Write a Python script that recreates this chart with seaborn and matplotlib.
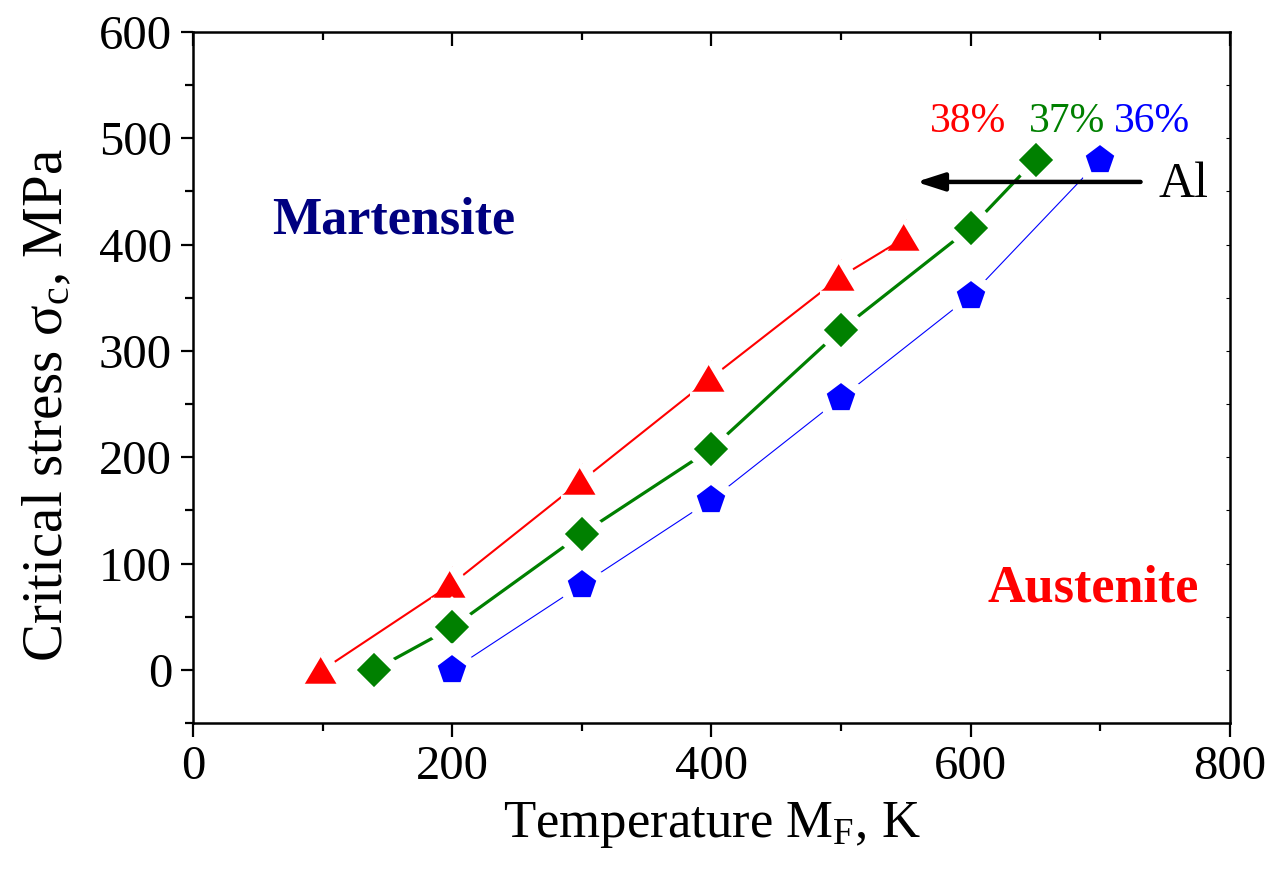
import numpy as np
import pandas as pd
import matplotlib
matplotlib.use("Agg")
import matplotlib.pyplot as plt
from matplotlib.ticker import MultipleLocator
import seaborn as sns

# Critical stress vs. martensite finish temperature for three Ni contents
temp_38 = [100, 200, 300, 400, 500, 550]
stress_38 = [0, 81, 178, 275, 370, 407]

temp_37 = [140, 200, 300, 400, 500, 600, 650]
stress_37 = [0, 40, 128, 208, 320, 416, 480]

temp_36 = [200, 300, 400, 500, 600, 700]
stress_36 = [0, 80, 160, 256, 352, 480]

labels = ["38%", "37%", "36%"]
colors = ["#ff0000", "#008000", "#0000ff"]

sns.set_theme(style="ticks")
plt.rcParams["font.family"] = ["Liberation Serif", "DejaVu Serif"]
plt.rcParams["mathtext.fontset"] = "custom"
plt.rcParams["mathtext.rm"] = "Liberation Serif"
plt.rcParams["mathtext.it"] = "Liberation Serif:italic"

fig = plt.figure(figsize=(12.77, 8.73), dpi=100)
ax = fig.add_axes([0.1511, 0.1718, 0.8121, 0.7915])

tri = [(-0.5, -0.42), (0.5, -0.42), (0.0, 0.42)]
mew = 7
series = [
    (temp_38, stress_38, colors[0], tri, 24, 1.5),
    (temp_37, stress_37, colors[1], "D", 17, 2.3),
    (temp_36, stress_36, colors[2], "p", 23, 0.8),
]
for t, s, c, m, ms, lw in series:
    df = pd.DataFrame({"T": t, "S": s})
    sns.lineplot(data=df, x="T", y="S", ax=ax, color=c, lw=lw, sort=False,
                 marker=m, markersize=ms + mew, markerfacecolor=c,
                 markeredgecolor="white", markeredgewidth=mew, zorder=3)

ax.set_xlim(0, 800)
ax.set_ylim(-50, 600)
ax.xaxis.set_major_locator(MultipleLocator(200))
ax.xaxis.set_minor_locator(MultipleLocator(100))
ax.yaxis.set_major_locator(MultipleLocator(100))
ax.yaxis.set_minor_locator(MultipleLocator(50))

for sp in ax.spines.values():
    sp.set_linewidth(1.8)
    sp.set_color("black")

ax.tick_params(axis="both", which="both", color="black", width=1.6,
               labelsize=35, labelcolor="black")
ax.tick_params(axis="x", which="major", direction="out", length=10, pad=6,
               top=True)
ax.tick_params(axis="x", which="minor", direction="out", length=6, top=True)
ax.tick_params(axis="y", which="major", direction="out", length=9, pad=6,
               right=True)
ax.tick_params(axis="y", which="minor", direction="out", length=6, right=True)
# top/right ticks point inward
for tl in ax.xaxis.get_major_ticks():
    tl.tick2line.set_marker(3)
    tl.tick2line.set_markersize(10)
for tl in ax.xaxis.get_minor_ticks():
    tl.tick2line.set_marker(3)
    tl.tick2line.set_markersize(6)
for tl in ax.yaxis.get_major_ticks() + ax.yaxis.get_minor_ticks():
    tl.tick2line.set_marker(0)
    tl.tick2line.set_markersize(3)
    tl.tick2line.set_markeredgewidth(0.8)

ax.set_xlabel(r"Temperature M$_\mathregular{F}$, K", fontsize=38, labelpad=8,
              color="black")
ax.set_ylabel(r"Critical stress σ$_\mathregular{c}$, MPa", fontsize=41,
              color="black")
ax.yaxis.set_label_coords(-0.114, 0.46)

# composition labels
label_x = [598, 674, 740]
for lx, lab, c in zip(label_x, labels, colors):
    ax.text(lx, 516, lab, color=c, fontsize=30, ha="center", va="center")

# phase regions
ax.text(61, 423, "Martensite", color="#000080", fontsize=37.5,
        fontweight="bold", ha="left", va="center")
ax.text(613, 77, "Austenite", color="#ff0000", fontsize=37.5,
        fontweight="bold", ha="left", va="center")

# Al content direction arrow
ax.annotate("", xy=(558, 459), xytext=(731, 459),
            arrowprops=dict(arrowstyle="-|>,head_length=1.4,head_width=0.45",
                            color="black", lw=3.2, shrinkA=0, shrinkB=0),
            zorder=5)
ax.text(745, 456, "Al", color="black", fontsize=36, ha="left", va="center")

fig.savefig("out.png", dpi=100, facecolor="white")
